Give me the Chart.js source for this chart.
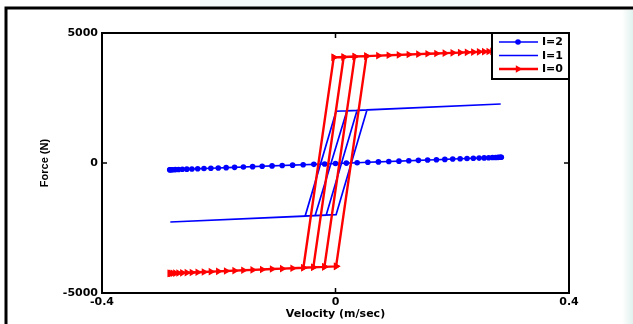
<!DOCTYPE html>
<html>
<head>
<meta charset="utf-8">
<script src="https://cdn.jsdelivr.net/npm/chart.js@4"></script>
<style>
  html, body { margin: 0; padding: 0; background: #fff; }
  #wrap { width: 633px; height: 324px; }
</style>
</head>
<body>
<div id="wrap"><canvas id="chart" width="633" height="324"></canvas></div>
<script>
// axis ticks
const xTicks = [-0.4, 0, 0.4];
const yTicks = [-5000, 0, 5000];
const seriesNames = ['I=2', 'I=1', 'I=0'];

// I=2 : single line with dot markers
const i2X = [-0.284, -0.2834, -0.2816, -0.2785, -0.2743, -0.2689, -0.2624, -0.2547, -0.246, -0.2361,
  -0.2253, -0.2135, -0.2008, -0.1873, -0.1729, -0.1578, -0.142, -0.1256, -0.1087, -0.0913,
  -0.0735, -0.0554, -0.0371, -0.0186, 0, 0.0186, 0.0371, 0.0554, 0.0735, 0.0913,
  0.1087, 0.1256, 0.142, 0.1578, 0.1729, 0.1873, 0.2008, 0.2135, 0.2253, 0.2361,
  0.246, 0.2547, 0.2624, 0.2689, 0.2743, 0.2785, 0.2816, 0.2834, 0.284];
const i2Y = [-261, -261, -259, -257, -253, -249, -243, -236, -229, -221,
  -212, -201, -191, -179, -167, -154, -141, -127, -112, -98,
  -82, -67, -52, -36, -20, -4, 12, 27, 42, 58,
  72, 87, 101, 114, 127, 139, 151, 161, 172, 181,
  189, 197, 203, 209, 213, 217, 219, 221, 221];

// I=1 : hysteresis loops, path vertices in drawing order
const i1X = [-0.283, 0.001, 0.054, 0.283, 0.001, -0.052, -0.283, -0.016, 0.037, 0.283, 0.0196, -0.035, -0.283];
const i1Y = [-2270, -1988, 2043, 2270, 1990, -2041, -2270, -2005, 2026, 2270, 2008, -2024, -2270];

// I=0 : lower branch, upper branch and the four steep jumps
const i0LowX = [-0.284, -0.2834, -0.2816, -0.2785, -0.2743, -0.2689, -0.2624, -0.2547, -0.246, -0.2361,
  -0.2253, -0.2135, -0.2008, -0.1873, -0.1729, -0.1578, -0.142, -0.1256, -0.1087, -0.0913,
  -0.0735, -0.055, -0.038, -0.019, 0.001];
const i0LowY = [-4246, -4245, -4243, -4240, -4236, -4231, -4225, -4218, -4210, -4200,
  -4190, -4179, -4167, -4154, -4140, -4126, -4111, -4095, -4079, -4063,
  -4046, -4028, -4012, -3994, -3975];
const i0UpX = [-0.003, 0.014, 0.033, 0.053, 0.0735, 0.0913, 0.1087, 0.1256, 0.142, 0.1578,
  0.1729, 0.1873, 0.2008, 0.2135, 0.2253, 0.2361, 0.246, 0.2547, 0.2624, 0.2689,
  0.2743, 0.2785, 0.2816, 0.2834, 0.284];
const i0UpY = [4063, 4077, 4094, 4111, 4128, 4143, 4158, 4172, 4186, 4200,
  4213, 4225, 4236, 4247, 4257, 4266, 4275, 4282, 4289, 4294,
  4299, 4302, 4305, 4306, 4307];
const jumpBottomX = [-0.055, -0.038, -0.019, 0.001];
const jumpBottomY = [-4028, -4012, -3994, -3975];
const jumpTopX = [-0.003, 0.014, 0.033, 0.053];
const jumpTopY = [4063, 4077, 4094, 4111];

const pts = (xs, ys) => xs.map((x, i) => ({ x: x, y: ys[i] }));
const gap = { x: null, y: null };

let i0Data = pts(i0LowX, i0LowY).concat([gap], pts(i0UpX, i0UpY));
jumpBottomX.forEach((bx, i) => {
  i0Data.push(gap, { x: bx, y: jumpBottomY[i] }, { x: jumpTopX[i], y: jumpTopY[i] });
});

const tickFont = { family: 'DejaVu Sans', size: 11, weight: 'bold' };

const framePlugin = {
  id: 'framePlugin',
  beforeDraw(chart) {
    const c = chart.ctx;
    c.save();
    c.fillStyle = '#fff';
    c.fillRect(0, 0, chart.width, chart.height);
    // faint background tint on the right edge
    const g = c.createLinearGradient(622, 0, 633, 0);
    g.addColorStop(0, 'rgba(225,242,238,0)');
    g.addColorStop(1, 'rgba(225,242,238,1)');
    c.fillStyle = g;
    c.fillRect(622, 10, 11, 314);
    c.fillStyle = '#f4fafa';
    c.fillRect(200, 0, 280, 7);
    // outer frame
    c.strokeStyle = '#000';
    c.lineWidth = 3;
    c.beginPath();
    c.moveTo(6, 324);
    c.lineTo(6, 8);
    c.lineTo(633, 8);
    c.stroke();
    c.restore();
  },
  afterDatasetsDraw(chart) {
    const c = chart.ctx;
    const a = chart.chartArea;
    const sx = chart.scales.x, sy = chart.scales.y;
    c.save();
    c.strokeStyle = '#000';
    c.lineWidth = 2;
    c.strokeRect(a.left, a.top, a.right - a.left, a.bottom - a.top);
    // inward ticks
    c.lineWidth = 1.5;
    c.beginPath();
    xTicks.forEach(v => {
      const px = sx.getPixelForValue(v);
      c.moveTo(px, a.bottom); c.lineTo(px, a.bottom - 5);
      c.moveTo(px, a.top); c.lineTo(px, a.top + 5);
    });
    yTicks.forEach(v => {
      const py = sy.getPixelForValue(v);
      c.moveTo(a.left, py); c.lineTo(a.left + 5, py);
      c.moveTo(a.right, py); c.lineTo(a.right - 5, py);
    });
    c.stroke();

    // legend
    const lx = 492, ly = a.top, lw = a.right - lx, lh = 46;
    c.fillStyle = '#fff';
    c.fillRect(lx, ly, lw, lh);
    c.lineWidth = 2;
    c.strokeRect(lx, ly, lw, lh);
    const rows = [9, 22.5, 36];
    chart.data.datasets.forEach((ds, i) => {
      const yy = ly + rows[i];
      c.strokeStyle = ds.borderColor;
      c.lineWidth = ds.borderWidth;
      c.beginPath();
      c.moveTo(lx + 7, yy);
      c.lineTo(lx + 46, yy);
      c.stroke();
      c.fillStyle = ds.borderColor;
      if (ds.pointStyle === 'circle' && ds.pointRadius > 0) {
        c.beginPath();
        c.arc(lx + 26, yy, ds.pointRadius, 0, Math.PI * 2);
        c.fill();
      } else if (ds.pointStyle === 'triangle') {
        const r = ds.pointRadius;
        c.beginPath();
        c.moveTo(lx + 26 + r, yy);
        c.lineTo(lx + 26 - r * 0.5, yy - r * 0.866);
        c.lineTo(lx + 26 - r * 0.5, yy + r * 0.866);
        c.closePath();
        c.fill();
      }
      c.fillStyle = '#000';
      c.font = 'bold 11px "DejaVu Sans"';
      c.textBaseline = 'middle';
      c.textAlign = 'left';
      c.fillText(ds.label, lx + 50, yy + 0.5);
    });
    c.restore();
  }
};

new Chart(document.getElementById('chart'), {
  type: 'scatter',
  data: {
    datasets: [
      {
        label: seriesNames[0],
        data: pts(i2X, i2Y),
        showLine: true,
        borderColor: '#0000ff',
        backgroundColor: '#0000ff',
        borderWidth: 1.6,
        pointStyle: 'circle',
        pointRadius: 2.8,
        pointBorderWidth: 0,
        order: 3
      },
      {
        label: seriesNames[1],
        data: pts(i1X, i1Y),
        showLine: true,
        borderColor: '#0000ff',
        backgroundColor: '#0000ff',
        borderWidth: 1.7,
        pointStyle: 'line',
        pointRadius: 0,
        order: 2
      },
      {
        label: seriesNames[2],
        data: i0Data,
        showLine: true,
        spanGaps: false,
        borderColor: '#ff0000',
        backgroundColor: '#ff0000',
        borderWidth: 2.4,
        pointStyle: 'triangle',
        pointRotation: 90,
        pointRadius: 4.4,
        pointBorderWidth: 0,
        order: 1
      }
    ]
  },
  options: {
    responsive: false,
    animation: false,
    events: [],
    layout: { padding: { top: 33, right: 64, left: 0, bottom: 0 } },
    plugins: {
      legend: { display: false },
      tooltip: { enabled: false }
    },
    scales: {
      x: {
        type: 'linear',
        min: xTicks[0],
        max: xTicks[2],
        afterBuildTicks: s => { s.ticks = xTicks.map(v => ({ value: v })); },
        afterFit: s => { s.height = 31; },
        ticks: {
          font: tickFont,
          color: '#000',
          padding: 3,
          maxRotation: 0,
          callback: v => String(+v.toFixed(1))
        },
        grid: { display: false, drawTicks: false },
        border: { display: false },
        title: {
          display: true,
          text: 'Velocity (m/sec)',
          color: '#000',
          font: { family: 'DejaVu Sans', size: 11, weight: 'bold' },
          padding: { top: 0, bottom: 3 }
        }
      },
      y: {
        min: yTicks[0],
        max: yTicks[2],
        afterBuildTicks: s => { s.ticks = yTicks.map(v => ({ value: v })); },
        afterFit: s => { s.width = 102; },
        ticks: {
          font: tickFont,
          color: '#000',
          padding: 4,
          callback: v => String(v)
        },
        grid: { display: false, drawTicks: false },
        border: { display: false },
        title: {
          display: true,
          text: 'Force (N)',
          color: '#000',
          font: { family: 'Liberation Sans', size: 11, weight: 'bold' },
          padding: { top: 38, bottom: 0 }
        }
      }
    }
  },
  plugins: [framePlugin]
});
</script>
</body>
</html>
